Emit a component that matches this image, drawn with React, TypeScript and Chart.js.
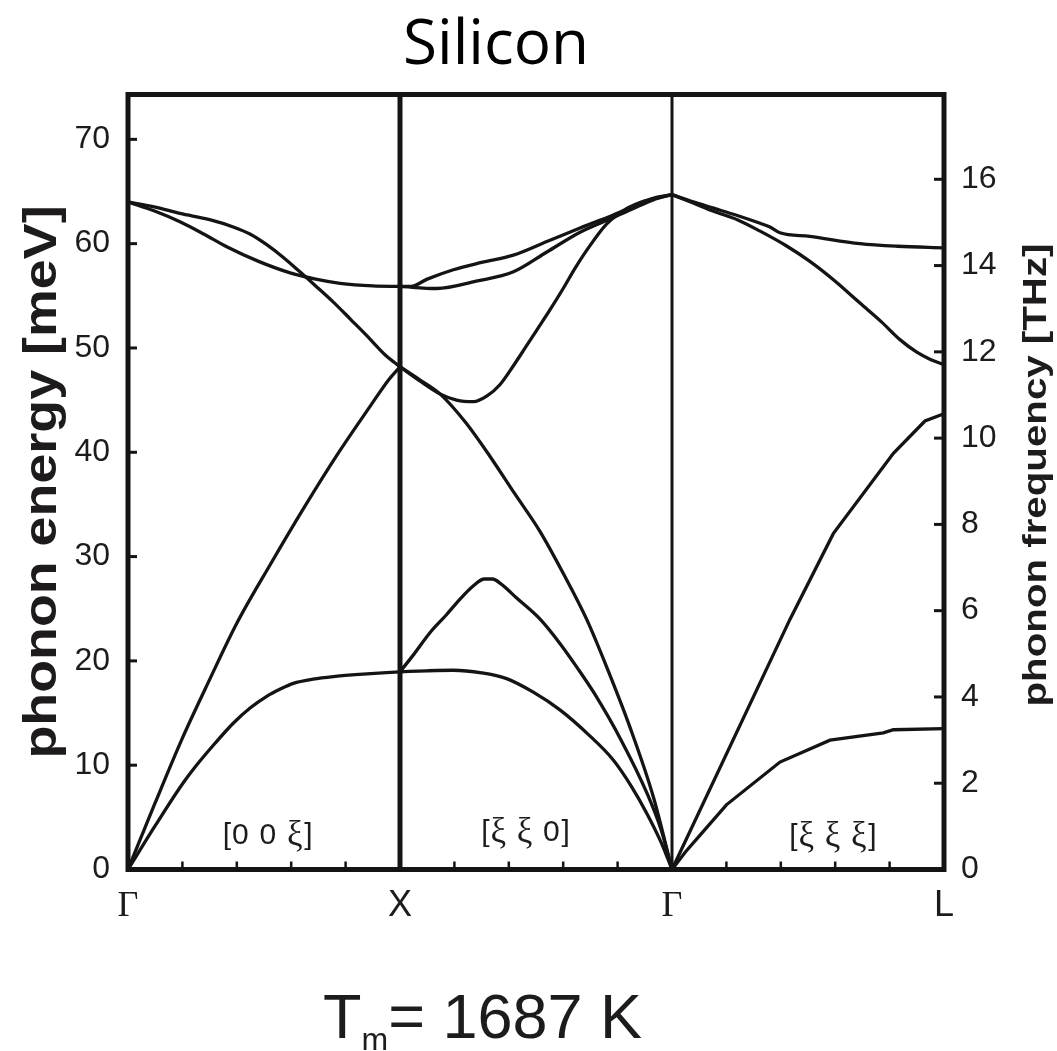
import React, { useEffect, useRef } from 'react';
import { Chart, registerables } from 'chart.js';

Chart.register(...registerables);

// ---------- data ----------
const MEV_PER_THZ = 4.1357;
const Y_MAX = 74.3;
const X_TICK_POS = [0, 1, 2, 3];
const X_TICK_LABELS = ['Γ', 'X', 'Γ', 'L'];
const X_MINOR = [0.2, 0.4, 0.6, 0.8, 1.2, 1.4, 1.6, 1.8, 2.2, 2.4, 2.6, 2.8];
const Y_TICKS = [0, 10, 20, 30, 40, 50, 60, 70];
const THZ_TICKS = [0, 2, 4, 6, 8, 10, 12, 14, 16];
const BOUNDARIES = [1, 2];
const REGION_LABELS = ['[0 0 ξ]', '[ξ ξ 0]', '[ξ ξ ξ]'];
const REGION_X = [0.515, 1.463, 2.593];
const REGION_Y = [3.2, 3.5, 3.1];

// Γ → X  [0 0 ξ]
const GX_TA = [[0, 0], [0.1, 4.2], [0.2, 8.2], [0.246, 9.8], [0.32, 12.1], [0.386, 14.0], [0.45, 15.5], [0.51, 16.6], [0.56, 17.3], [0.608, 17.85], [0.68, 18.25], [0.755, 18.5], [0.85, 18.7], [1.0, 18.95]];
const GX_LA = [[0, 0], [0.1, 6.4], [0.2, 12.6], [0.3, 18.2], [0.4, 23.6], [0.52, 29.1], [0.645, 34.6], [0.77, 39.8], [0.89, 44.4], [0.96, 47.0], [1.0, 48.2]];
const GX_LO = [[0, 64.0], [0.1, 63.5], [0.191, 62.9], [0.3, 62.3], [0.387, 61.6], [0.45, 60.9], [0.51, 59.9], [0.57, 58.7], [0.632, 57.3], [0.69, 55.95], [0.755, 54.4], [0.82, 52.7], [0.877, 51.2], [0.92, 50.0], [0.951, 49.2], [0.98, 48.6], [1.0, 48.2]];
const GX_TO = [[0, 64.0], [0.1, 63.1], [0.191, 62.1], [0.28, 60.9], [0.363, 59.7], [0.48, 58.3], [0.596, 57.2], [0.69, 56.6], [0.78, 56.2], [0.9, 55.95], [1.0, 55.9]];

// X → Γ  [ξ ξ 0]
const XG_TA1 = [[1.0, 18.95], [1.1, 19.05], [1.196, 19.1], [1.3, 18.85], [1.392, 18.3], [1.49, 17.0], [1.588, 15.3], [1.69, 13.0], [1.784, 10.5], [1.85, 8.0], [1.907, 5.4], [1.96, 2.6], [2.0, 0]];
const XG_TA2 = [[1.0, 18.95], [1.05, 20.6], [1.11, 22.7], [1.17, 24.4], [1.22, 25.9], [1.27, 27.2], [1.31, 27.85], [1.34, 27.85], [1.37, 27.4], [1.43, 26.0], [1.515, 24.0], [1.59, 21.6], [1.65, 19.4], [1.714, 16.9], [1.813, 12.4], [1.91, 7.2], [1.96, 3.8], [2.0, 0]];
const XG_LA = [[1.0, 48.2], [1.07, 47.0], [1.147, 45.6], [1.24, 42.9], [1.331, 39.6], [1.42, 36.1], [1.515, 32.4], [1.6, 28.4], [1.686, 24.0], [1.76, 19.4], [1.846, 13.6], [1.931, 7.0], [2.0, 0]];
const XG_LO = [[1.0, 48.2], [1.07, 46.9], [1.147, 45.6], [1.208, 45.0], [1.27, 44.85], [1.32, 45.4], [1.368, 46.5], [1.417, 48.3], [1.46, 50.0], [1.5, 51.6], [1.55, 53.6], [1.6, 55.7], [1.645, 57.7], [1.69, 59.5], [1.76, 61.9], [1.83, 63.3], [1.9, 64.1], [2.0, 64.7]];
const XG_TO1 = [[1.0, 55.9], [1.04, 55.9], [1.1, 56.6], [1.196, 57.5], [1.3, 58.2], [1.417, 58.9], [1.54, 60.2], [1.662, 61.5], [1.784, 62.75], [1.86, 63.6], [1.931, 64.35], [2.0, 64.7]];
const XG_TO2 = [[1.0, 55.9], [1.135, 55.7], [1.28, 56.4], [1.417, 57.3], [1.54, 59.2], [1.662, 61.1], [1.784, 62.5], [1.86, 63.4], [1.931, 64.2], [2.0, 64.7]];

// Γ → L  [ξ ξ ξ]
const GL_TA = [[2.0, 0], [2.05, 1.7], [2.1, 3.2], [2.2, 6.2], [2.397, 10.3], [2.581, 12.4], [2.777, 13.1], [2.814, 13.4], [3.0, 13.5]];
const GL_LA = [[2.0, 0], [2.434, 24.0], [2.593, 32.2], [2.814, 39.9], [2.93, 43.0], [3.0, 43.7]];
const GL_LO = [[2.0, 64.7], [2.078, 63.9], [2.153, 63.1], [2.24, 62.3], [2.324, 61.2], [2.42, 59.8], [2.507, 58.3], [2.6, 56.4], [2.691, 54.3], [2.77, 52.5], [2.838, 50.8], [2.9, 49.6], [2.95, 48.9], [3.0, 48.4]];
const GL_TO = [[2.0, 64.7], [2.078, 64.0], [2.153, 63.4], [2.24, 62.7], [2.324, 61.95], [2.36, 61.6], [2.397, 61.05], [2.507, 60.7], [2.691, 60.0], [2.83, 59.75], [3.0, 59.6]];

const SMOOTH_BRANCHES = [GX_TA, GX_LA, GX_LO, GX_TO, XG_TA1, XG_TA2, XG_LA, XG_LO, XG_TO1, XG_TO2, GL_LO, GL_TO];
const STRAIGHT_BRANCHES = [GL_TA, GL_LA];

const Y_TITLE = 'phonon energy [meV]';
const Y1_TITLE = 'phonon frequency [THz]';

// ---------- style ----------
const INK = '#141414';
const TEXT = '#1e1b1c';
const SANS = '"Liberation Sans", Arial, sans-serif';
const SERIF = '"Liberation Serif", "Times New Roman", serif';

function drawMixed(ctx: CanvasRenderingContext2D, text: string, cx: number, cy: number, size: number) {
  const parts = Array.from(text).map((ch) => ({
    ch,
    font: ch === 'ξ' ? `${size + 5}px ${SERIF}` : `${size}px ${SANS}`,
    w: 0,
  }));
  let total = 0;
  parts.forEach((p) => {
    ctx.font = p.font;
    p.w = ctx.measureText(p.ch).width * 1.1;
    total += p.w;
  });
  let x = cx - total / 2;
  ctx.textBaseline = 'middle';
  ctx.textAlign = 'left';
  parts.forEach((p) => {
    ctx.font = p.font;
    ctx.fillText(p.ch, x, cy);
    x += p.w;
  });
}

function drawVerticalTitle(ctx: CanvasRenderingContext2D, text: string, cx: number, cy: number, size: number, stretch: number) {
  ctx.save();
  ctx.translate(cx, cy);
  ctx.rotate(-Math.PI / 2);
  ctx.scale(stretch, 1);
  ctx.font = `bold ${size}px ${SANS}`;
  ctx.textAlign = 'center';
  ctx.textBaseline = 'middle';
  ctx.fillStyle = TEXT;
  ctx.fillText(text, 0, 0);
  ctx.restore();
}

const overlayPlugin = {
  id: 'phononOverlay',
  afterDatasetsDraw(chart: any) {
    const { ctx, chartArea: a, scales } = chart;
    const xs = scales.x;
    const ys = scales.y;
    const y1 = scales.y1;
    const line = (x0: number, yA: number, x1: number, yB: number) => {
      ctx.beginPath();
      ctx.moveTo(x0, yA);
      ctx.lineTo(x1, yB);
      ctx.stroke();
    };
    ctx.save();
    ctx.strokeStyle = INK;
    ctx.lineCap = 'butt';
    const bw = [5, 3];
    BOUNDARIES.forEach((b, i) => {
      ctx.lineWidth = bw[i];
      const px = xs.getPixelForValue(b);
      line(px, a.top, px, a.bottom);
    });
    ctx.lineWidth = 2.5;
    X_MINOR.forEach((v) => {
      const px = xs.getPixelForValue(v);
      line(px, a.bottom, px, a.bottom - 8);
    });
    ctx.lineWidth = 3;
    Y_TICKS.forEach((v) => {
      if (v === 0) return;
      const py = ys.getPixelForValue(v);
      line(a.left, py, a.left + 9, py);
    });
    THZ_TICKS.forEach((v) => {
      if (v === 0) return;
      const py = y1.getPixelForValue(v);
      line(a.right, py, a.right - 10, py);
    });
    ctx.lineWidth = 5;
    ctx.strokeRect(a.left, a.top, a.right - a.left, a.bottom - a.top);

    ctx.fillStyle = TEXT;
    REGION_LABELS.forEach((t, i) => {
      drawMixed(ctx, t, xs.getPixelForValue(REGION_X[i]), ys.getPixelForValue(REGION_Y[i]), 30);
    });
    ctx.restore();

    // axis titles, both reading bottom to top
    drawVerticalTitle(ctx, Y_TITLE, 43, (a.top + a.bottom) / 2, 46, 1.17);
    drawVerticalTitle(ctx, Y1_TITLE, 1037, 475, 33, 1.22);
  },
};

const toPts = (arr: number[][]) => arr.map(([x, y]) => ({ x, y }));

export default function App() {
  const ref = useRef<HTMLCanvasElement | null>(null);

  useEffect(() => {
    document.body.style.margin = '0';
    if (!ref.current) return;
    Chart.defaults.font.family = SANS;
    const datasets: any[] = [];
    SMOOTH_BRANCHES.forEach((b) =>
      datasets.push({
        data: toPts(b),
        borderColor: INK,
        borderWidth: 3.3,
        pointRadius: 0,
        cubicInterpolationMode: 'monotone',
        fill: false,
        yAxisID: 'y',
      })
    );
    STRAIGHT_BRANCHES.forEach((b) =>
      datasets.push({
        data: toPts(b),
        borderColor: INK,
        borderWidth: 3.3,
        pointRadius: 0,
        tension: 0,
        fill: false,
        yAxisID: 'y',
      })
    );

    const chart = new Chart(ref.current, {
      type: 'line',
      data: { datasets },
      plugins: [overlayPlugin],
      options: {
        animation: false,
        responsive: false,
        parsing: false as any,
        layout: { padding: { top: 94.5, left: 0, right: 0, bottom: 0 } },
        plugins: { legend: { display: false }, tooltip: { enabled: false }, title: { display: false } },
        scales: {
          x: {
            type: 'linear',
            position: 'bottom',
            min: 0,
            max: 3,
            grid: { display: false, drawTicks: false },
            border: { display: false },
            afterBuildTicks: (s: any) => {
              s.ticks = X_TICK_POS.map((v) => ({ value: v }));
            },
            afterFit: (s: any) => {
              s.height = 181.5;
            },
            ticks: {
              autoSkip: false,
              maxRotation: 0,
              padding: 15,
              color: TEXT,
              font: (c: any) => ({
                family: X_TICK_LABELS[c.index] === 'Γ' ? SERIF : SANS,
                size: 36,
              }),
              callback: (v: any) => {
                const i = X_TICK_POS.indexOf(Number(v));
                return i >= 0 ? X_TICK_LABELS[i] : '';
              },
            },
          },
          y: {
            type: 'linear',
            position: 'left',
            min: 0,
            max: Y_MAX,
            grid: { display: false, drawTicks: false },
            border: { display: false },
            afterBuildTicks: (s: any) => {
              s.ticks = Y_TICKS.map((v) => ({ value: v }));
            },
            afterFit: (s: any) => {
              s.width = 128;
            },
            ticks: { padding: 18, color: TEXT, font: { size: 32, family: SANS } },
            title: { display: false, text: Y_TITLE },
          },
          y1: {
            type: 'linear',
            position: 'right',
            min: 0,
            max: Y_MAX / MEV_PER_THZ,
            grid: { display: false, drawTicks: false },
            border: { display: false },
            afterBuildTicks: (s: any) => {
              s.ticks = THZ_TICKS.map((v) => ({ value: v }));
            },
            afterFit: (s: any) => {
              s.width = 113;
            },
            ticks: { padding: 17, color: TEXT, font: { size: 32, family: SANS } },
            title: { display: false, text: Y1_TITLE },
          },
        },
      } as any,
    });
    return () => chart.destroy();
  }, []);

  return (
    <div style={{ position: 'relative', width: 1057, height: 1051, background: '#fff', overflow: 'hidden' }}>
      <canvas ref={ref} width={1057} height={1051} style={{ position: 'absolute', left: 0, top: 0 }} />
      <div
        style={{
          position: 'absolute',
          left: 296,
          top: 8,
          width: 400,
          textAlign: 'center',
          fontFamily: '"Open Sans", sans-serif',
          fontSize: 62,
          lineHeight: '64px',
          color: '#000',
        }}
      >
        Silicon
      </div>
      <div
        style={{
          position: 'absolute',
          left: 323,
          top: 985,
          fontFamily: SANS,
          fontSize: 63,
          lineHeight: '62px',
          whiteSpace: 'nowrap',
          color: TEXT,
        }}
      >
        T<span style={{ fontSize: 32, position: 'relative', top: 12 }}>m</span>= 1687 K
      </div>
    </div>
  );
}
